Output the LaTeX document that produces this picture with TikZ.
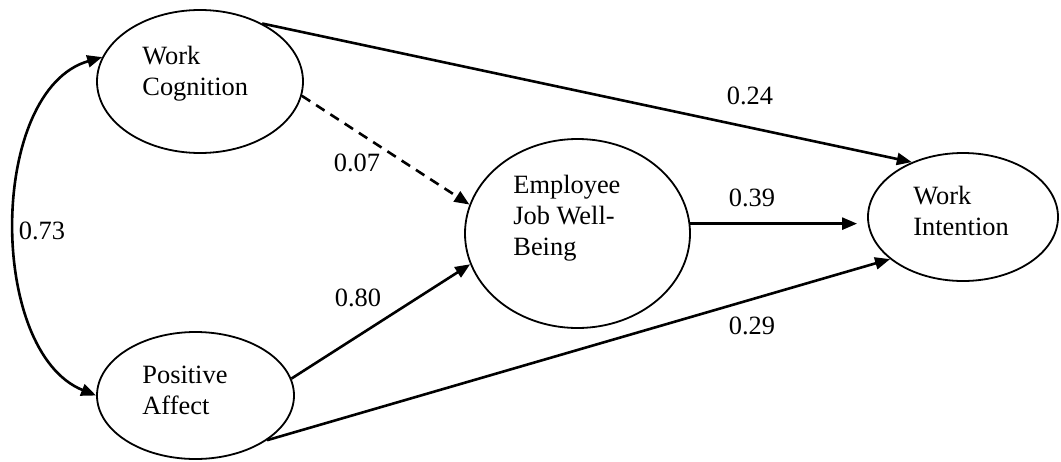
\documentclass[tikz,border=0pt]{standalone}
\usepackage{fontspec}
\setmainfont{Liberation Serif}
\usetikzlibrary{arrows.meta,shapes.geometric}

\begin{document}
\begin{tikzpicture}[x=0.5pt, y=-0.5pt,
    every node/.style={font=\fontsize{13.2}{15.5}\selectfont},
    latent/.style={draw, ellipse, line width=0.9pt, inner sep=0pt},
    vname/.style={align=left, anchor=base west, inner sep=0pt},
    coef/.style={inner sep=1pt},
    effect/.style={line width=1.3pt, -{Triangle[length=7.5pt, width=6pt]}}]
    \useasboundingbox (0,0) rectangle (1061,461);

    % Latent variables
    \node [latent, minimum width=103pt, minimum height=71.5pt] (wc) at (200,81.5) {};
    \node [latent, minimum width=98.5pt, minimum height=63.5pt] (pa) at (195.5,395.5) {};
    \node [latent, minimum width=112.5pt, minimum height=94.5pt] (ejwb) at (577.5,233.5) {};
    \node [latent, minimum width=95pt, minimum height=64pt] (wi) at (963,217) {};

    \node [vname] (wc-txt) at (142,95) {Work\\Cognition};
    \node [vname] (pa-txt) at (142,414) {Positive\\Affect};
    \node [vname] (ejwb-txt) at (513,255) {Employee\\Job Well-\\Being};
    \node [vname] (wi-txt) at (913,235) {Work\\Intention};

    % Arrows and lines
    \draw [effect] (wc.43.8) -- (wi.133);
    \draw [effect, dash pattern=on 5pt off 3.5pt] (wc.-8.6) -- (ejwb.165.1);
    \draw [effect] (pa.10.6) -- (ejwb.-164.4);
    \draw [effect] (pa.-32.7) -- (wi.-150.6);
    \draw [effect, shorten >=5pt] (ejwb.5.4) -- (ejwb.5.4 -| wi.west);
    \draw [effect, {Triangle[length=7.5pt, width=6pt]}-{Triangle[length=7.5pt, width=6pt]}]
        (wc.166.5) .. controls +(-114,33) and +(-109,-44) .. (pa.west);

    % Coefficients
    \node [coef] (c-wc-wi) at (750,96) {0.24};
    \node [coef] (c-wc-ejwb) at (357,163) {0.07};
    \node [coef] (c-ejwb-wi) at (752,198) {0.39};
    \node [coef] (c-pa-wi) at (752,326) {0.29};
    \node [coef] (c-pa-ejwb) at (358,298) {0.80};
    \node [coef] (c-wc-pa) at (42,231) {0.73};
\end{tikzpicture}
\end{document}
